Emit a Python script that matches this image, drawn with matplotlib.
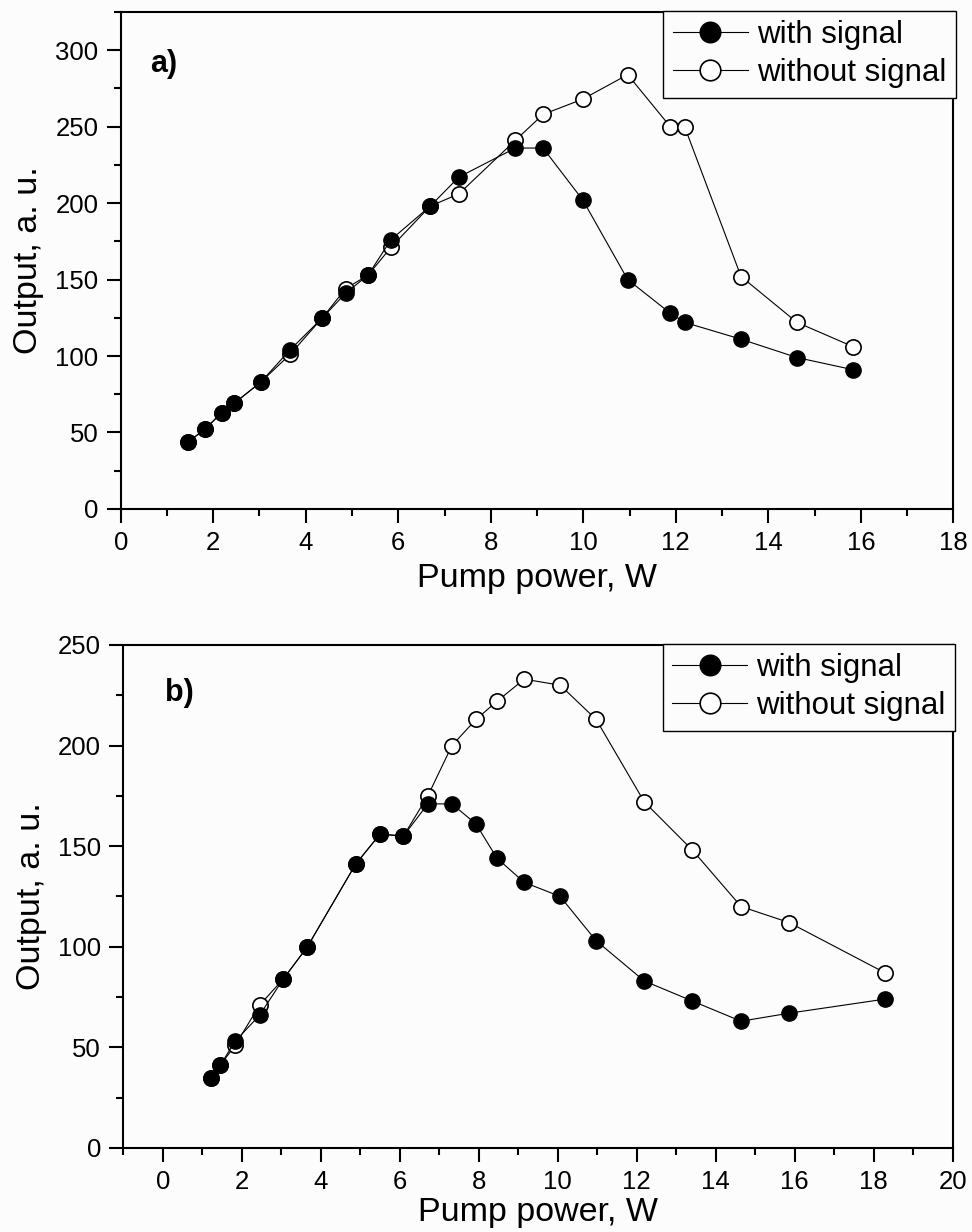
import matplotlib
matplotlib.use("Agg")
from matplotlib import pyplot as plt
from matplotlib.ticker import MultipleLocator

plt.rcParams['font.family'] = ['Liberation Sans', 'DejaVu Sans']

# panel a)
a_x = [1.46, 1.82, 2.18, 2.45, 3.03, 3.66, 4.36, 4.86, 5.35, 5.84, 6.69, 7.31,
       8.53, 9.13, 9.99, 10.96, 11.88, 12.19, 13.41, 14.62, 15.84]
a_with = [44, 52, 63, 69, 83, 104, 125, 141, 153, 176, 198, 217,
          236, 236, 202, 150, 128, 122, 111, 99, 91]
a_without = [44, 52, 63, 69, 83, 101, 125, 144, 153, 171, 198, 206,
             241, 258, 268, 284, 250, 250, 152, 122, 106]

# panel b)
b_x = [1.22, 1.45, 1.83, 2.45, 3.05, 3.66, 4.88, 5.50, 6.09, 6.71, 7.32, 7.93,
       8.46, 9.15, 10.06, 10.97, 12.19, 13.41, 14.64, 15.86, 18.29]
b_with = [35, 41, 53, 66, 84, 100, 141, 156, 155, 171, 171, 161,
          144, 132, 125, 103, 83, 73, 63, 67, 74]
b_without = [35, 41, 51, 71, 84, 100, 141, 156, 155, 175, 200, 213,
             222, 233, 230, 213, 172, 148, 120, 112, 87]

bg = '#fcfcfc'
fig = plt.figure(figsize=(9.72, 12.32), dpi=100, facecolor=bg)
ax1 = fig.add_axes([0.1242, 0.5869, 0.8566, 0.4034], facecolor=bg)
ax2 = fig.add_axes([0.1269, 0.0682, 0.8533, 0.4083], facecolor=bg)


def draw(ax, x, y_with, y_without, tag, tag_xy, xlim, ylim, xlabelpad):
    l2, = ax.plot(x, y_without, '-o', color='black', lw=0.8, ms=11,
                  mfc='white', mec='black', mew=1.2, label='without signal', zorder=2)
    l1, = ax.plot(x, y_with, '-o', color='black', lw=0.8, ms=11,
                  mfc='black', mec='black', label='with signal', zorder=3)
    ax.set_xlim(*xlim)
    ax.set_ylim(*ylim)
    ax.xaxis.set_major_locator(MultipleLocator(2))
    ax.xaxis.set_minor_locator(MultipleLocator(1))
    ax.yaxis.set_major_locator(MultipleLocator(50))
    ax.yaxis.set_minor_locator(MultipleLocator(25))
    ax.tick_params(which='major', direction='out', length=10, width=1.5,
                   labelsize=18.5, pad=6)
    ax.tick_params(which='minor', direction='out', length=5, width=1.5)
    ax.tick_params(top=False, right=False, which='both')
    for s in ax.spines.values():
        s.set_linewidth(1.5)
    ax.set_xlabel("Pump power, W", fontsize=24.5, labelpad=xlabelpad)
    ax.set_ylabel("Output, a. u.", fontsize=24.5, labelpad=8)
    ax.text(tag_xy[0], tag_xy[1], tag, fontsize=22, fontweight='bold',
            va='center', ha='left')
    leg = ax.legend(handles=[l1, l2], loc='upper right', bbox_to_anchor=(1.003, 1.002),
                    borderaxespad=0, fontsize=22.5, frameon=True, fancybox=False,
                    edgecolor='black', framealpha=1, facecolor=bg,
                    handlelength=2.4, handletextpad=0.3, labelspacing=0.25,
                    borderpad=0.3, markerscale=1.35)
    leg.get_frame().set_linewidth(1.0)


draw(ax1, a_x, a_with, a_without, 'a)', (0.63, 291), (0, 18), (0, 325), 6)
draw(ax2, b_x, b_with, b_without, 'b)', (0.06, 226), (-1, 20), (0, 250), 2)

fig.savefig("out.png", dpi=100, facecolor=bg)
